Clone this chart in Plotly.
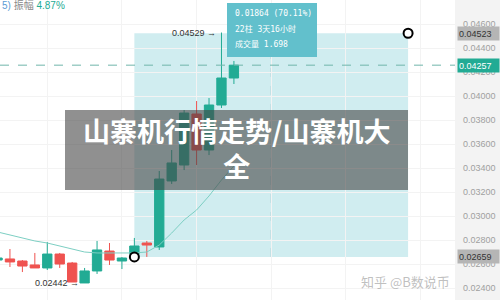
import plotly.graph_objects as go

# ---- data ----
bars = list(range(-1, 19))
opens  = [0.02633, 0.02642, 0.02625, 0.02592, 0.02567, 0.02683, 0.02608, 0.02442, 0.02542, 0.02708,
          0.02625, 0.02683, 0.02775, 0.02742, 0.03292, 0.03425, 0.03850, 0.03550, 0.03925, 0.04150]
highs  = [0.02675, 0.02725, 0.02633, 0.02692, 0.02783, 0.02692, 0.02617, 0.02567, 0.02792, 0.02775,
          0.02658, 0.02817, 0.02792, 0.03375, 0.03550, 0.03883, 0.03958, 0.03983, 0.04529, 0.04292]
lows   = [0.02617, 0.02575, 0.02533, 0.02567, 0.02550, 0.02567, 0.02450, 0.02442, 0.02517, 0.02592,
          0.02558, 0.02659, 0.02659, 0.02717, 0.03267, 0.03383, 0.03425, 0.03508, 0.03900, 0.04100]
closes = [0.02650, 0.02617, 0.02583, 0.02567, 0.02683, 0.02600, 0.02450, 0.02542, 0.02717, 0.02633,
          0.02650, 0.02750, 0.02758, 0.03308, 0.03442, 0.03858, 0.03550, 0.03925, 0.04150, 0.04257]
ma     = [0.02867, 0.02842, 0.02817, 0.02792, 0.02775, 0.02750, 0.02725, 0.02700, 0.02692, 0.02692,
          0.02692, 0.02692, 0.02700, 0.02758, 0.02858, 0.02967, 0.03050, 0.03167, 0.03300, 0.03417]

tick_vals = [0.024, 0.026, 0.028, 0.030, 0.032, 0.034, 0.036, 0.038, 0.040, 0.042, 0.044, 0.046]
meas_start, meas_end = 10, 32
meas_low, meas_high = 0.02659, 0.04523
last_price = 0.04257
hi_mark, lo_mark = 0.04529, 0.02442
title_text = "山寨机行情走势/山寨机大<br>全"
tip_lines = ["0.01864 (70.11%)", "22柱 3天16小时", "成交量 1.698"]

GREEN = "#22ab94"
RED = "#ef5350"

fig = go.Figure()

fig.add_trace(go.Scatter(x=bars, y=ma, mode="lines",
                         line=dict(color="#7dcfc3", width=1), hoverinfo="skip", showlegend=False))

fig.add_trace(go.Candlestick(
    x=bars, open=opens, high=highs, low=lows, close=closes,
    increasing=dict(line=dict(color=GREEN, width=1), fillcolor=GREEN),
    decreasing=dict(line=dict(color=RED, width=1), fillcolor=RED),
    whiskerwidth=0, showlegend=False))

# measurement end points
fig.add_trace(go.Scatter(x=[meas_start, meas_end], y=[meas_low, meas_high], mode="markers",
                         marker=dict(size=9, color="white", line=dict(color="black", width=2)),
                         showlegend=False, hoverinfo="skip", cliponaxis=False))

shapes = []
shapes.append(dict(type="rect", xref="x", yref="y", x0=meas_start, x1=meas_end,
                   y0=meas_low, y1=meas_high, fillcolor="#d0edf0", line=dict(width=0), layer="below"))
mid = (meas_start + meas_end) / 2
shapes.append(dict(type="line", xref="x", yref="y", x0=mid, x1=mid, y0=meas_low, y1=0.0445,
                   line=dict(color="#9cc3c8", width=1, dash="dash"), layer="below"))
shapes.append(dict(type="line", xref="paper", yref="y", x0=0, x1=0.91, y0=last_price, y1=last_price,
                   line=dict(color="#6fb5aa", width=1, dash="dash")))
shapes.append(dict(type="rect", xref="paper", yref="paper", x0=0.91, x1=1, y0=0, y1=1,
                   fillcolor="#f3f3f3", line=dict(width=0), layer="below"))
shapes.append(dict(type="rect", xref="paper", yref="paper", x0=227/500, x1=317/500,
                   y0=1-57/300, y1=1-3/300, fillcolor="#62c0cc", line=dict(width=0)))
shapes.append(dict(type="rect", xref="paper", yref="paper", x0=65/500, x1=408/500,
                   y0=1-190/300, y1=1-110/300, fillcolor="rgba(70,70,70,0.6)", line=dict(width=0)))

ann = []
for i, t in enumerate(tip_lines):
    ann.append(dict(xref="paper", yref="paper", x=233/500, y=1-(14+15*i)/300, text=t,
                    showarrow=False, xanchor="left", yanchor="middle",
                    font=dict(family="DejaVu Sans Mono, Noto Sans CJK SC", size=8, color="white")))
for price, bg, fg in [(meas_high, "#b5b5b5", "#333333"), (last_price, GREEN, "white"),
                      (meas_low, "#b5b5b5", "#333333")]:
    ann.append(dict(xref="paper", yref="y", x=1, y=price, text=f"{price:.5f}", showarrow=False,
                    xanchor="right", yanchor="middle", bgcolor=bg, width=39, height=11,
                    align="left", borderpad=1,
                    font=dict(family="Liberation Sans, Arial", size=9, color=fg)))
ann.append(dict(xref="x", yref="y", x=17 - 0.25, y=hi_mark, text=f"{hi_mark:.5f} →", showarrow=False,
                xanchor="right", yanchor="middle", font=dict(family="Liberation Sans", size=9, color="#333")))
ann.append(dict(xref="x", yref="y", x=6 - 0.25, y=lo_mark, text=f"{lo_mark:.5f} →", showarrow=False,
                xanchor="right", yanchor="middle", font=dict(family="Liberation Sans", size=9, color="#333")))
ann.append(dict(xref="paper", yref="paper", x=0, y=1-5/300,
                text="<span style='color:#5b9bd5'>5)</span> <span style='color:#888'>振幅</span> <span style='color:#22ab94'>4.87%</span>",
                showarrow=False, xanchor="left", yanchor="middle",
                font=dict(family="Liberation Sans, Noto Sans CJK SC", size=10)))
ann.append(dict(xref="paper", yref="paper", x=236/500, y=1-148/300, text=title_text,
                showarrow=False, xanchor="center", yanchor="middle", align="center",
                font=dict(family="Noto Sans CJK SC", size=27, color="white", weight="bold")))
ann.append(dict(xref="paper", yref="paper", x=452/500, y=1-281/300, text="知乎 @B数说币",
                showarrow=False, xanchor="right", yanchor="middle",
                font=dict(family="Noto Sans CJK SC", size=13, color="rgba(150,150,150,0.6)")))

fig.update_layout(
    width=500, height=300, margin=dict(l=0, r=0, t=0, b=0),
    paper_bgcolor="white", plot_bgcolor="white",
    shapes=shapes, annotations=ann, showlegend=False,
    boxgap=0.25, boxgroupgap=0,
    xaxis=dict(domain=[0, 0.91], range=[-0.8, 35.77], rangeslider=dict(visible=False),
               showticklabels=False, showgrid=True, gridcolor="#f3f3f3",
               tickvals=[3, 9, 15, 21, 27, 33], zeroline=False, fixedrange=True),
    yaxis=dict(side="right", range=[0.023, 0.048], tickvals=tick_vals, tickformat=".5f",
               tickfont=dict(family="Liberation Sans, Arial", size=9, color="#a0a0a0"),
               showgrid=True, gridcolor="#f3f3f3", zeroline=False, ticks="", ticklabelstandoff=7),
)

fig.write_html("out.html")
